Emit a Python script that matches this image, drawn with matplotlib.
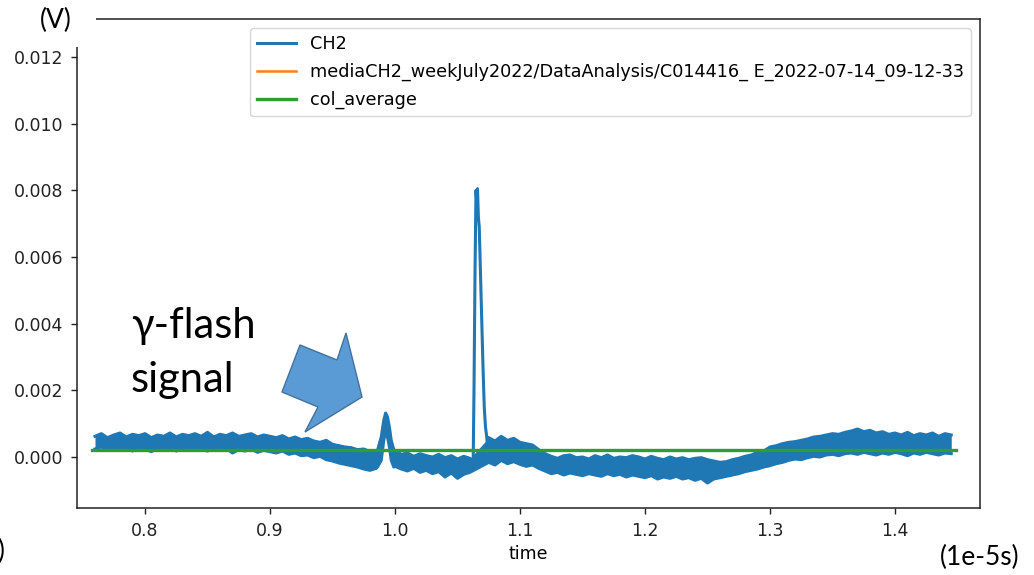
import numpy as np
import matplotlib
matplotlib.use('Agg')
import matplotlib.pyplot as plt
from matplotlib.patches import Polygon, Rectangle
from matplotlib.ticker import FormatStrFormatter

W, H = 1034, 575

################ data (in mV) ################

t0, dt = 0.76, 0.005   # time axis in units of 1e-5 s
ch2_hi = [0.62, 0.70, 0.58, 0.66, 0.72, 0.60, 0.68, 0.64, 0.70, 0.58,
          0.66, 0.62, 0.72, 0.60, 0.68, 0.64, 0.70, 0.62, 0.74, 0.60,
          0.68, 0.64, 0.72, 0.62, 0.66, 0.70, 0.60, 0.66, 0.62, 0.58,
          0.64, 0.54, 0.60, 0.52, 0.56, 0.48, 0.44, 0.50, 0.38, 0.34,
          0.30, 0.28, 0.22, 0.24, 0.16, 0.18, 0.20, 0.20, 0.20, 0.08,
          0.12, 0.02, 0.10, 0.04, 0.00, 0.08, -0.02, 0.04, -0.06, 0.02,
          -0.04, 0.00, 0.00, 0.58, 0.48, 0.62, 0.50, 0.56, 0.44, 0.40,
          0.36, 0.22, 0.10, 0.02, -0.04, 0.04, 0.06, -0.02, 0.00, -0.06,
          0.04, -0.02, 0.06, -0.04, 0.00, -0.02, 0.04, 0.00, -0.06, 0.02,
          -0.04, -0.08, 0.00, -0.06, -0.02, -0.08, -0.04, -0.02, -0.08, -0.12,
          -0.16, -0.14, -0.08, -0.04, 0.02, 0.06, 0.14, 0.18, 0.30, 0.34,
          0.40, 0.44, 0.46, 0.50, 0.54, 0.60, 0.62, 0.66, 0.70, 0.68,
          0.74, 0.78, 0.84, 0.76, 0.80, 0.72, 0.76, 0.68, 0.72, 0.66,
          0.74, 0.64, 0.70, 0.66, 0.72, 0.62, 0.70, 0.66]
ch2_lo = [0.24, 0.30, 0.20, 0.28, 0.22, 0.26, 0.18, 0.28, 0.24, 0.16,
          0.26, 0.22, 0.28, 0.18, 0.24, 0.20, 0.26, 0.22, 0.18, 0.24,
          0.20, 0.26, 0.12, 0.22, 0.18, 0.24, 0.14, 0.20, 0.16, 0.12,
          0.18, 0.08, 0.12, 0.04, 0.06, -0.02, 0.02, -0.08, -0.12, -0.18,
          -0.22, -0.26, -0.30, -0.36, -0.40, -0.34, -0.30, -0.30, -0.28, -0.36,
          -0.42, -0.34, -0.46, -0.40, -0.50, -0.44, -0.60, -0.48, -0.64, -0.52,
          -0.46, 0.00, 0.00, -0.16, -0.24, -0.10, -0.20, -0.14, -0.22, -0.28,
          -0.24, -0.34, -0.42, -0.50, -0.46, -0.54, -0.48, -0.52, -0.56, -0.50,
          -0.54, -0.58, -0.50, -0.56, -0.52, -0.60, -0.54, -0.58, -0.62, -0.56,
          -0.66, -0.60, -0.64, -0.58, -0.66, -0.62, -0.70, -0.64, -0.78, -0.66,
          -0.62, -0.58, -0.54, -0.50, -0.44, -0.40, -0.36, -0.30, -0.26, -0.20,
          -0.16, -0.10, -0.06, -0.08, -0.02, 0.02, 0.00, 0.06, 0.08, 0.04,
          0.10, 0.12, 0.08, 0.14, 0.10, 0.06, 0.12, 0.08, 0.14, 0.10,
          0.04, 0.12, 0.08, 0.14, 0.10, 0.06, 0.12, 0.10]

# small gamma-flash bump
flash_t = [0.986, 0.989, 0.991, 0.9925, 0.994, 0.9955, 0.997, 0.999]
flash_hi = [0.20, 0.60, 1.10, 1.32, 1.20, 0.90, 0.50, 0.22]
flash_lo = [-0.30, -0.10, 0.50, 0.75, 0.60, 0.30, -0.10, -0.30]

# main pulse
pulse_t = [1.0610, 1.0625, 1.0632, 1.0640, 1.0648, 1.0655, 1.0660, 1.0667,
           1.0674, 1.0684, 1.0694, 1.0704, 1.0714, 1.0724, 1.0734, 1.0745]
pulse_v = [-0.40, -0.30, 2.00, 5.50, 8.00, 7.60, 8.05, 7.20,
           6.90, 5.50, 4.00, 2.70, 1.50, 0.90, 0.60, 0.00]

avg_level = 0.2
avg_span = [0.758, 1.449]

legend_labels = ['CH2',
                 'mediaCH2_weekJuly2022/DataAnalysis/C014416_ E_2022-07-14_09-12-33',
                 'col_average']

# call-out arrow outline (figure pixels)
arrow_px = [(305, 432), (362, 397), (346, 333), (337, 360),
            (300, 345), (282, 392), (318, 407)]

################ build trace ################

mv = 1e-3
t_grid = t0 + dt * np.arange(len(ch2_hi))
hi = np.array(ch2_hi)
lo = np.array(ch2_lo)

def in_gap(t):
    return ((t > 0.9855) & (t < 0.9995)) | ((t > 1.0605) & (t < 1.0748))

keep = ~in_gap(t_grid)

# upper edge, with flash and pulse
up_t = np.concatenate([t_grid[keep], flash_t, pulse_t])
up_v = np.concatenate([hi[keep], flash_hi, pulse_v])
o = np.argsort(up_t)
up_t, up_v = up_t[o], up_v[o] * mv

# lower edge, with flash
dn_t = np.concatenate([t_grid[keep], flash_t])
dn_hi = np.concatenate([hi[keep], flash_hi])
dn_v = np.concatenate([lo[keep], flash_lo])
o = np.argsort(dn_t)
dn_t, dn_hi, dn_v = dn_t[o], dn_hi[o] * mv, dn_v[o] * mv

################ plot ################

fig = plt.figure(figsize=(W / 100, H / 100), dpi=100)
ax = fig.add_axes([77 / W, 1 - 508 / H, (980 - 77) / W, (508 - 19) / H])

blue = '#1f77b4'
ax.fill_between(dn_t, dn_v, dn_hi, color=blue, lw=0)
ax.plot(up_t, up_v, color=blue, lw=2.2, label=legend_labels[0],
        solid_joinstyle='round')
ax.plot(dn_t, dn_v, color=blue, lw=2.2, solid_joinstyle='round')
ax.plot([], [], color='#ff7f0e', lw=1.8, label=legend_labels[1])
ax.plot(avg_span, [avg_level * mv] * 2, color='#2ca02c', lw=2.4, label=legend_labels[2])

ax.set_xlim(0.7456, 1.468)
ax.set_ylim(-0.00153, 0.01314)
ax.set_xticks([0.8, 0.9, 1.0, 1.1, 1.2, 1.3, 1.4])
ax.set_yticks([0.0, 0.002, 0.004, 0.006, 0.008, 0.010, 0.012])
ax.xaxis.set_major_formatter(FormatStrFormatter('%.1f'))
ax.yaxis.set_major_formatter(FormatStrFormatter('%.3f'))
ax.tick_params(labelsize=12.5, length=4.5, width=1.0, pad=5.5, colors='#222222')
for s in ax.spines.values():
    s.set_linewidth(1.1)
    s.set_color('#222222')
ax.set_xlabel('time', fontsize=12.5, labelpad=4)

ax.legend(loc='upper right', bbox_to_anchor=(971 / W, 1 - 28 / H),
          bbox_transform=fig.transFigure, borderaxespad=0, fontsize=12.7,
          handlelength=2.2, labelspacing=0.55)

# white patch hiding the top-left corner of the frame
fig.add_artist(Rectangle((0, 1 - 46.5 / H), 95.5 / W, 46.5 / H, transform=fig.transFigure,
                         facecolor='white', edgecolor='none', zorder=10))

fig.add_artist(Polygon([(x / W, 1 - y / H) for x, y in arrow_px], closed=True,
                       transform=fig.transFigure, facecolor='#5b9bd5',
                       edgecolor='#41719c', lw=1, zorder=11))

txt = dict(family='Lato', color='black', zorder=12)
fig.text(56 / W, 1 - 20 / H, '(V)', ha='center', va='center', fontsize=19, **txt)
fig.text(980 / W, 1 - 557 / H, '(1e-5s)', ha='center', va='center', fontsize=19, **txt)
fig.text(4 / W, 1 - 551 / H, ')', ha='right', va='center', fontsize=19, **txt)
fig.text(131 / W, 1 - 338 / H, 'γ-flash', ha='left', va='baseline', fontsize=30, **txt)
fig.text(131 / W, 1 - 392 / H, 'signal', ha='left', va='baseline', fontsize=30, **txt)

fig.savefig('out.png', dpi=100)
